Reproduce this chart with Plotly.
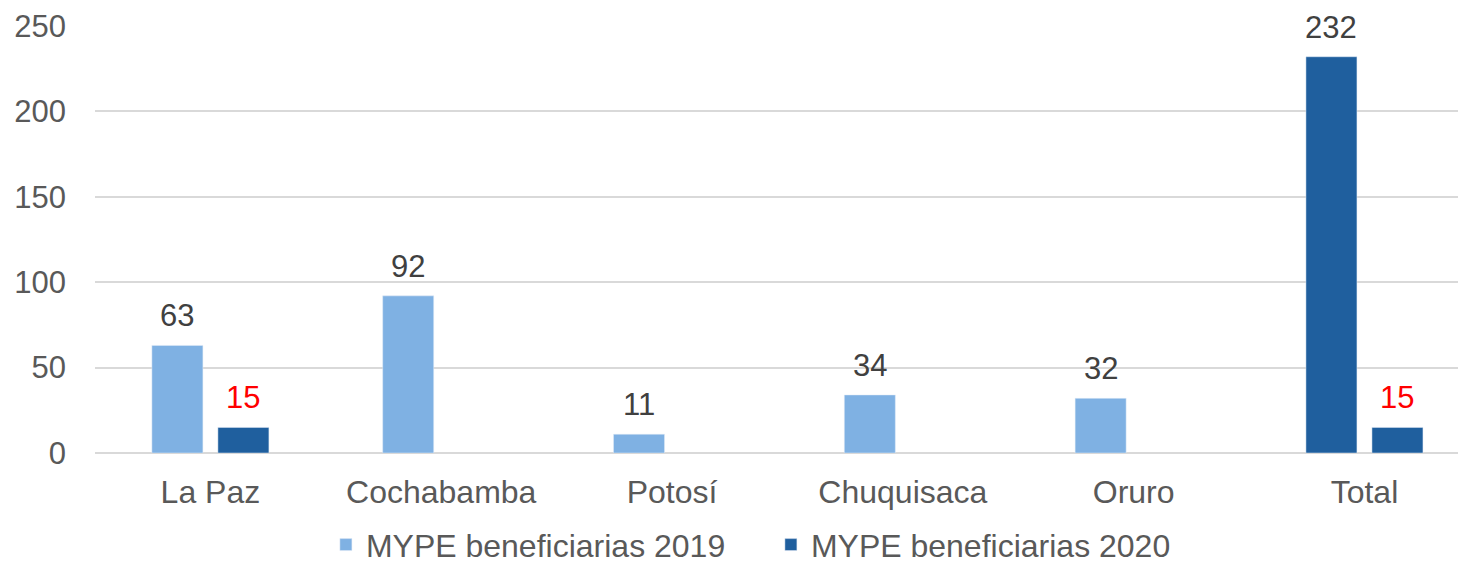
import plotly.graph_objects as go

LIGHT = "#7FB1E3"
DARK = "#1F5F9E"
LABEL = "#404040"
AXIS_TEXT = "#595959"
GRID = "#D9D9D9"
FONT = "Liberation Sans, Arial, sans-serif"

categories = ["La Paz", "Cochabamba", "Potosí", "Chuquisaca", "Oruro", "Total"]
mype_2019 = [63, 92, 11, 34, 32, 232]
mype_2020 = [15, None, None, None, None, 15]
y_ticks = [0, 50, 100, 150, 200, 250]

# la barra "Total" del primer grupo va en azul oscuro
colors_2019 = [LIGHT] * (len(categories) - 1) + [DARK]

fig = go.Figure()
fig.add_trace(go.Bar(
    x=categories, y=mype_2019, name="MYPE beneficiarias 2019",
    marker=dict(color=colors_2019), hoverinfo="skip",
))
fig.add_trace(go.Bar(
    x=categories, y=mype_2020, name="MYPE beneficiarias 2020",
    marker=dict(color=DARK), hoverinfo="skip",
))

# etiquetas de datos
for cat, v in zip(categories, mype_2019):
    fig.add_annotation(x=cat, y=v, text=str(v), showarrow=False,
                       xshift=-33, yshift=10, yanchor="bottom",
                       font=dict(size=31, color=LABEL, family=FONT))
for cat, v in zip(categories, mype_2020):
    if v is None:
        continue
    fig.add_annotation(x=cat, y=v, text=str(v), showarrow=False,
                       xshift=33, yshift=10, yanchor="bottom",
                       font=dict(size=31, color="#FF0000", family=FONT))

# la página html deja 8px de margen en body, se descuenta aquí
fig.update_layout(
    width=1458, height=557,
    paper_bgcolor="white", plot_bgcolor="white",
    font=dict(family=FONT, size=31, color=AXIS_TEXT),
    margin=dict(l=87, r=0, t=18, b=112, autoexpand=False),
    barmode="group", bargap=0.428, bargroupgap=0.227,
    showlegend=True,
    legend=dict(orientation="h", x=0.493, xanchor="center", y=-0.215,
                yanchor="middle", font=dict(size=32, color=AXIS_TEXT),
                itemwidth=30, entrywidth=400, bgcolor="rgba(0,0,0,0)"),
    xaxis=dict(range=[-0.5, 5.44], showgrid=False, showline=False,
               ticks="", ticklabelstandoff=17, automargin=False,
               tickfont=dict(size=32, color=AXIS_TEXT)),
    yaxis=dict(range=[0, 250], tickvals=y_ticks, showgrid=True,
               gridcolor=GRID, gridwidth=1.5, zeroline=True,
               zerolinecolor=GRID, zerolinewidth=1.5, showline=False,
               ticks="", ticklabelstandoff=28, automargin=False,
               tickfont=dict(size=31, color=AXIS_TEXT)),
)

fig.write_html("out.html")
